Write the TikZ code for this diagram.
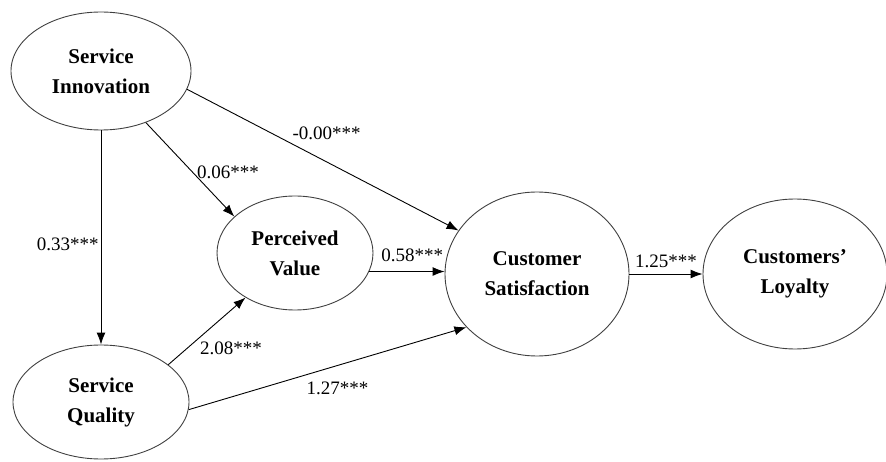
\documentclass[tikz,border=0pt]{standalone}
\usepackage{fontspec}
\setmainfont{Liberation Serif}
\usepackage{tikz}
\usetikzlibrary{shapes.geometric,arrows.meta,positioning}
\tikzstyle{construct} = [ellipse, draw=black!75, line width=0.9pt, inner sep=0pt, text=black, align=center, font=\bfseries\fontsize{21}{30}\selectfont]
\tikzstyle{tedge} = [draw, line width=0.9pt, -{Latex[length=12pt,width=9pt]}]
\tikzstyle{coef} = [font=\fontsize{19}{22}\selectfont, inner sep=2pt]

\begin{document}
\begin{tikzpicture}[x=1pt,y=1pt]
\useasboundingbox (0,0) rectangle (886,461);

% constructs =============================
\node[construct, minimum width=180pt, minimum height=118pt] (si) at (101,390) {Service\\Innovation};
\node[construct, minimum width=176pt, minimum height=114pt] (sq) at (101,59) {Service\\Quality};
\node[construct, minimum width=156pt, minimum height=114pt] (pv) at (295,208) {Perceived\\Value};
\node[construct, minimum width=184pt, minimum height=164pt] (cs) at (537,187) {Customer\\Satisfaction};
\node[construct, minimum width=184pt, minimum height=150pt] (cl) at (795,187) {Customers’\\Loyalty};

% edges
\path (si.south) edge[tedge] node[coef, left, pos=0.53] {0.33***} (sq.north);
\path (si.-49) edge[tedge] node[coef, right=2pt, pos=0.53] {0.06***} (pv.149);
\path (si.-12) edge[tedge] node[coef, above=20pt, pos=0.514] {-0.00***} (cs.151);
\path (pv.-14) edge[tedge] node[coef, above=7pt, pos=0.57] {0.58***} (pv.-14 -| cs.west);
\path (sq.29) edge[tedge] node[coef, below right, pos=0.38] {2.08***} (pv.222);
\path (sq.-5) edge[tedge] node[coef, below=14pt, pos=0.536] {1.27***} (cs.217);
\path (cs.east) edge[tedge] node[coef, above=4pt] {1.25***} (cl.west);

\end{tikzpicture}
\end{document}
